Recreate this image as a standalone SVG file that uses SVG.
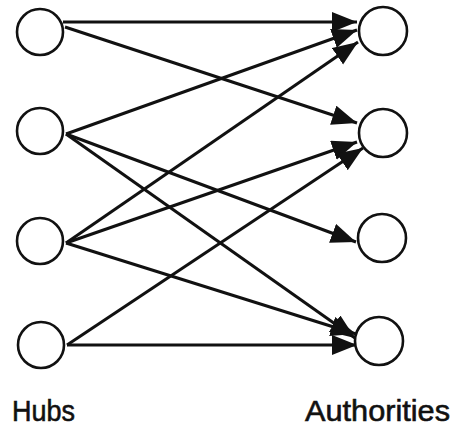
<svg xmlns="http://www.w3.org/2000/svg" width="453" height="432" viewBox="0 0 453 432">
  <style>
    .node { fill: #ffffff; stroke: #111111; stroke-width: 2.6; }
    .edge { stroke: #111111; stroke-width: 3; fill: none; marker-end: url(#arrow); }
    .label { font-family: "Liberation Sans", Arial, sans-serif; font-size: 30px; fill: #111111; stroke: #111111; stroke-width: 0.6; }
  </style>
  <defs>
    <marker id="arrow" markerUnits="userSpaceOnUse" markerWidth="28" markerHeight="22" refX="25" refY="10" orient="auto">
      <path d="M0,0 L25,10 L0,20 z" fill="#111111"/>
    </marker>
  </defs>
  <rect width="453" height="432" fill="#ffffff"/>

  <!-- hub to authority links -->
  <g id="connectors">
    <line class="edge" x1="63" y1="22" x2="357" y2="22"/>
    <line class="edge" x1="65" y1="27" x2="357" y2="123"/>
    <line class="edge" x1="66" y1="134" x2="357" y2="30"/>
    <line class="edge" x1="66" y1="134" x2="356" y2="242"/>
    <line class="edge" x1="66" y1="134" x2="355" y2="338"/>
    <line class="edge" x1="66" y1="243" x2="358" y2="42"/>
    <line class="edge" x1="66" y1="243" x2="357" y2="142"/>
    <line class="edge" x1="66" y1="243" x2="356" y2="334"/>
    <line class="edge" x1="67" y1="345" x2="363" y2="148"/>
    <line class="edge" x1="67" y1="345" x2="357" y2="345"/>
  </g>

  <!-- hubs -->
  <g id="hub1"><circle class="node" cx="40" cy="32" r="23"/></g>
  <g id="hub2"><circle class="node" cx="40" cy="131" r="23"/></g>
  <g id="hub3"><circle class="node" cx="40" cy="241" r="23"/></g>
  <g id="hub4"><circle class="node" cx="41" cy="345" r="23"/></g>

  <!-- authorities -->
  <g id="authority1"><circle class="node" cx="383" cy="31" r="24"/></g>
  <g id="authority2"><circle class="node" cx="383" cy="133" r="24"/></g>
  <g id="authority3"><circle class="node" cx="382" cy="238" r="24"/></g>
  <g id="authority4"><circle class="node" cx="379" cy="341" r="24"/></g>

  <g id="labels">
    <text class="label" x="12" y="421" textLength="63" lengthAdjust="spacingAndGlyphs">Hubs</text>
    <text class="label" x="305" y="421" textLength="145" lengthAdjust="spacingAndGlyphs">Authorities</text>
  </g>
</svg>
